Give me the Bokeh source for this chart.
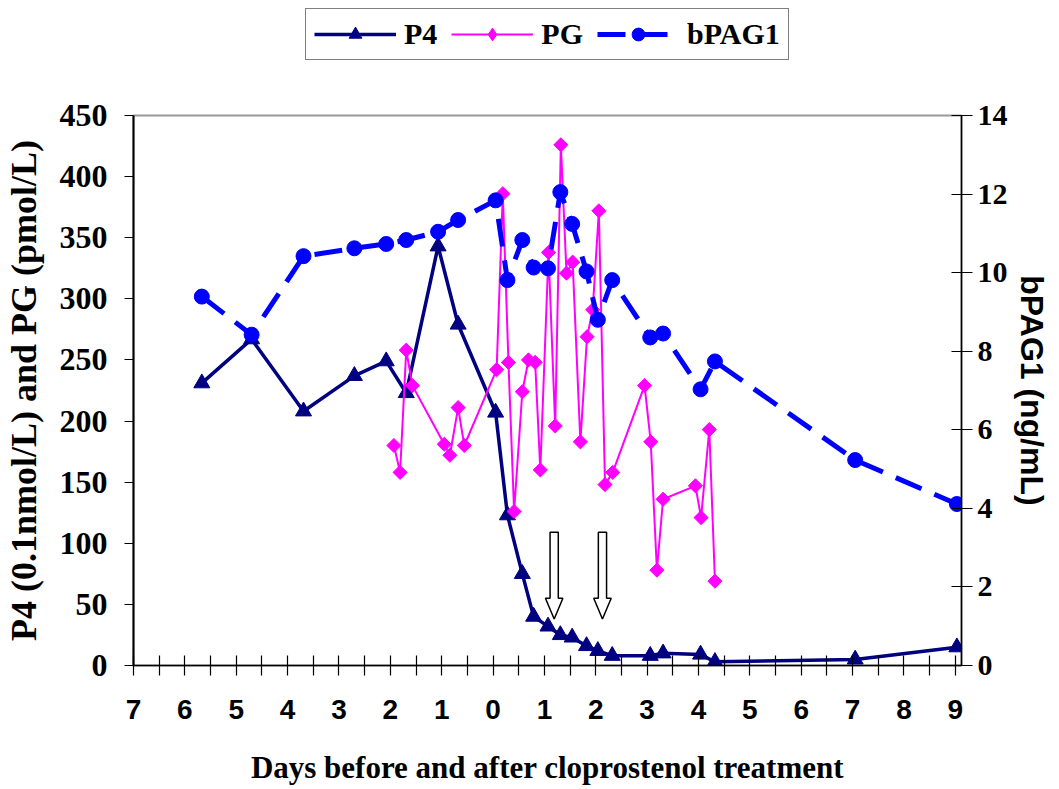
from bokeh.plotting import figure
from bokeh.layouts import column
from bokeh.models import Range1d, LinearAxis, FixedTicker, Legend, LegendItem
from bokeh.embed import file_html
from bokeh.resources import INLINE

# ---------------- data ----------------
days = [-5.67, -4.70, -3.69, -2.70, -2.08, -1.69, -1.07, -0.68, 0.05, 0.28, 0.57, 0.79,
        1.07, 1.31, 1.54, 1.82, 2.04, 2.32, 3.06, 3.31, 4.04, 4.32, 7.05, 9.03]
p4 = [231, 267, 208, 237, 249, 223, 343, 279, 207, 123, 75, 40,
      32, 25, 23, 16, 12, 8, 8, 10, 9, 3, 5, 15]
bpag1 = [9.39, 8.42, 10.42, 10.62, 10.73, 10.83, 11.04, 11.34, 11.84, 9.81, 10.83, 10.13,
         10.11, 12.05, 11.24, 10.03, 8.80, 9.81, 8.35, 8.45, 7.03, 7.74, 5.23, 4.11]
pg_days = [-1.93, -1.81, -1.69, -1.57, -0.95, -0.84, -0.68, -0.56, 0.07, 0.19, 0.30, 0.41,
           0.57, 0.69, 0.82, 0.92, 1.08, 1.21, 1.32, 1.43, 1.55, 1.70, 1.83, 1.94,
           2.06, 2.18, 2.33, 2.95, 3.07, 3.19, 3.31, 3.94, 4.05, 4.21, 4.32]
pg = [180, 158, 258, 229, 181, 172, 211, 180, 242, 386, 248, 126,
      224, 250, 248, 160, 338, 196, 426, 321, 330, 183, 269, 291,
      372, 148, 158, 229, 183, 78, 136, 147, 121, 193, 69]
series_names = ["P4", "PG", "bPAG1"]
tick_days = list(range(-7, 10))
tick_labels = [str(abs(d)) for d in tick_days]
left_ticks = list(range(0, 451, 50))
right_ticks = list(range(0, 15, 2))
arrow_days = [1.19, 2.13]          # treatment arrows
arrow_top, arrow_neck, arrow_tip = 109, 55, 38

NAVY, MAGENTA, BLUE = "#000080", "#FF00FF", "#0000FF"
SERIF, SANS = "Liberation Serif", "Liberation Sans"
W = 1059
H = 789
LEG_H = 62

# ---------------- main plot ----------------
p = figure(width=W, height=H - LEG_H, output_backend="svg", toolbar_location=None,
           x_range=Range1d(-7, 9.12), y_range=Range1d(0, 450),
           min_border_left=133, min_border_right=98, min_border_top=115 - LEG_H,
           min_border_bottom=124, background_fill_color="white",
           border_fill_color="white")
p.extra_y_ranges = {"pag": Range1d(0, 14)}
p.grid.visible = False
p.outline_line_color = "#999999"
p.outline_line_width = 2

# x axis
xa = p.xaxis[0]
xa.ticker = FixedTicker(ticks=tick_days, minor_ticks=[d + 0.5 for d in tick_days[:-1]])
xa.major_label_overrides = {d: lab for d, lab in zip(tick_days, tick_labels)}
xa.axis_line_color = "black"
xa.axis_line_width = 1.5
xa.major_tick_in = 10
xa.major_tick_out = 10
xa.minor_tick_in = 10
xa.minor_tick_out = 10
xa.major_tick_line_color = "black"
xa.minor_tick_line_color = "black"
xa.major_tick_line_width = 1.2
xa.minor_tick_line_width = 1.2
xa.major_label_text_font = SANS
xa.major_label_text_font_style = "bold"
xa.major_label_text_font_size = "28px"
xa.major_label_text_color = "black"
xa.major_label_standoff = 24
xa.axis_label = "Days before and after cloprostenol treatment"
xa.axis_label_text_font = SERIF
xa.axis_label_text_font_style = "bold"
xa.axis_label_text_font_size = "31px"
xa.axis_label_text_color = "black"
xa.axis_label_standoff = 28

# left axis
ya = p.yaxis[0]
ya.ticker = FixedTicker(ticks=left_ticks)
ya.axis_line_color = "black"
ya.axis_line_width = 2
ya.major_tick_in = 0
ya.major_tick_out = 9
ya.minor_tick_line_color = None
ya.major_tick_line_color = "black"
ya.major_tick_line_width = 1.2
ya.major_label_text_font = SERIF
ya.major_label_text_font_style = "bold"
ya.major_label_text_font_size = "32px"
ya.major_label_text_color = "black"
ya.major_label_standoff = 17
ya.axis_label = "P4 (0.1nmol/L) and PG (pmol/L)"
ya.axis_label_text_font = SERIF
ya.axis_label_text_font_style = "bold"
ya.axis_label_text_font_size = "36px"
ya.axis_label_text_color = "black"
ya.axis_label_standoff = 13

# right axis
ra = LinearAxis(y_range_name="pag", ticker=FixedTicker(ticks=right_ticks))
ra.axis_line_color = "black"
ra.axis_line_width = 1.5
ra.major_tick_in = 10
ra.major_tick_out = 11
ra.minor_tick_line_color = None
ra.major_tick_line_color = "black"
ra.major_tick_line_width = 1.2
ra.major_label_text_font = SERIF
ra.major_label_text_font_style = "bold"
ra.major_label_text_font_size = "30px"
ra.major_label_text_color = "black"
ra.major_label_standoff = 5
ra.axis_label = "bPAG1 (ng/mL)"
ra.axis_label_text_font = SANS
ra.axis_label_text_font_style = "bold"
ra.axis_label_text_font_size = "32px"
ra.axis_label_text_color = "black"
ra.axis_label_standoff = 3
p.add_layout(ra, "right")

# arrows (hollow block arrows)
shaft_hw, head_hw = 0.08, 0.17
axs, ays = [], []
for d in arrow_days:
    axs.append([d - shaft_hw, d + shaft_hw, d + shaft_hw, d + head_hw, d, d - head_hw, d - shaft_hw])
    ays.append([arrow_top, arrow_top, arrow_neck, arrow_neck, arrow_tip, arrow_neck, arrow_neck])
p.patches(axs, ays, fill_color="white", line_color="black", line_width=1.5)

# series
p.line(days, p4, line_color=NAVY, line_width=3.5)
p.scatter(days, p4, marker="triangle", size=16, fill_color=NAVY, line_color=NAVY)
p.line(pg_days, pg, line_color=MAGENTA, line_width=2)
p.scatter(pg_days, pg, marker="square", angle=0.785398, size=10,
          fill_color=MAGENTA, line_color=MAGENTA)
p.line(days, bpag1, line_color=BLUE, line_width=5, line_dash="28 14", y_range_name="pag")
p.scatter(days, bpag1, marker="circle", size=15, fill_color=BLUE, line_color=BLUE,
          y_range_name="pag")

# ---------------- legend strip (same series, ranges chosen so only keys show) ----------------
lf = figure(width=W, height=LEG_H, output_backend="svg", toolbar_location=None,
            x_range=Range1d(100, 101), y_range=Range1d(1000, 1001), min_border=0,
            x_axis_location=None, y_axis_location=None, outline_line_color=None,
            background_fill_color="white", border_fill_color="white")
lf.grid.visible = False
k1 = [lf.line(days, p4, line_color=NAVY, line_width=3.5),
      lf.scatter(days, p4, marker="triangle", size=16, fill_color=NAVY, line_color=NAVY)]
k2 = [lf.line(pg_days, pg, line_color=MAGENTA, line_width=2),
      lf.scatter(pg_days, pg, marker="diamond", size=19, fill_color=MAGENTA, line_color=MAGENTA)]
k3 = [lf.line(days, bpag1, line_color=BLUE, line_width=5, line_dash="28 14"),
      lf.scatter(days, bpag1, marker="circle", size=15, fill_color=BLUE, line_color=BLUE)]
legend = Legend(items=[LegendItem(label=n, renderers=r)
                       for n, r in zip(series_names, [k1, k2, k3])],
                orientation="horizontal", location=(305 - 133, 2))
legend.label_text_font = SERIF
legend.label_text_font_style = "bold"
legend.label_text_font_size = "30px"
legend.label_text_color = "black"
legend.border_line_color = "black"
legend.border_line_width = 1.5
legend.background_fill_color = "white"
legend.background_fill_alpha = 1
legend.padding = 8
legend.spacing = 14
legend.margin = 0
legend.glyph_width = 82
legend.glyph_height = 32
legend.label_standoff = 8
lf.add_layout(legend, "center")

open("out.html", "w").write(file_html(column(lf, p, spacing=0), INLINE))
